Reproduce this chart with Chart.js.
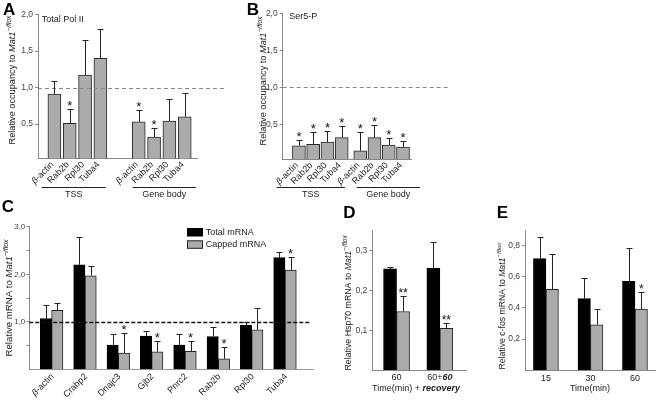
<!DOCTYPE html>
<html>
<head>
<meta charset="utf-8">
<script src="https://cdn.jsdelivr.net/npm/chart.js@4.4.0/dist/chart.umd.min.js"></script>
<style>
  html, body { margin: 0; padding: 0; background: #fff; }
  #wrap { position: relative; width: 656px; height: 401px; overflow: hidden; }
  canvas { position: absolute; }
</style>
</head>
<body>
<div id="wrap">
  <canvas id="pa" width="230" height="200" style="left:0px;top:0px"></canvas>
  <canvas id="pb" width="230" height="200" style="left:225px;top:0px"></canvas>
  <canvas id="pc" width="340" height="206" style="left:0px;top:195px"></canvas>
  <canvas id="pd" width="140" height="206" style="left:335px;top:195px"></canvas>
  <canvas id="pe" width="181" height="206" style="left:475px;top:195px"></canvas>
</div>
<script>
// ---- data ----
const abGenes = ['β-actin', 'Rab2b', 'Rpl30', 'Tuba4'];
const abGroups = ['TSS', 'Gene body'];
const abTicks = [0.5, 1.0, 1.5, 2.0];

// A: Total Pol II, TSS then gene body
const aValues = [0.91, 0.51, 1.17, 1.40, 0.53, 0.32, 0.54, 0.60];
const aErrors = [0.18, 0.19, 0.48, 0.41, 0.16, 0.13, 0.31, 0.33];
const aStars  = ['', '*', '', '', '*', '*', '', ''];

// B: Ser5-P
const bValues = [0.21, 0.23, 0.26, 0.32, 0.14, 0.32, 0.22, 0.19];
const bErrors = [0.08, 0.16, 0.15, 0.16, 0.26, 0.17, 0.10, 0.08];
const bStars  = ['*', '*', '*', '*', '*', '*', '*', '*'];

// C: total vs capped mRNA
const cGenes = ['β-actin', 'Crabp2', 'Dnajc3', 'Gjb2', 'Pnrc2', 'Rab2b', 'Rpl30', 'Tuba4'];
const cTotal      = [1.07, 2.20, 0.51, 0.70, 0.51, 0.69, 0.93, 2.35];
const cTotalErr   = [0.28, 0.58, 0.24, 0.10, 0.24, 0.21, 0.07, 0.13];
const cCapped     = [1.24, 1.97, 0.34, 0.37, 0.38, 0.22, 0.83, 2.09];
const cCappedErr  = [0.16, 0.20, 0.43, 0.23, 0.22, 0.26, 0.47, 0.28];
const cStars      = ['', '', '*', '*', '*', '*', '', '*'];
const cTicks = [0.5, 1, 1.5, 2, 2.5, 3];
const seriesNames = ['Total mRNA', 'Capped mRNA'];

// D: Hsp70
const dTimes = ['60', '60+60'];
const dTotal     = [0.254, 0.256];
const dTotalErr  = [0.004, 0.066];
const dCapped    = [0.147, 0.105];
const dCappedErr = [0.038, 0.013];
const dStars     = ['**', '**'];
const dTicks = [0.1, 0.2, 0.3];

// E: c-fos
const eTimes = ['15', '30', '60'];
const eTotal     = [0.716, 0.46, 0.57];
const eTotalErr  = [0.136, 0.131, 0.213];
const eCapped    = [0.52, 0.292, 0.393];
const eCappedErr = [0.228, 0.103, 0.112];
const eStars     = ['', '', '*'];
const eTicks = [0.2, 0.4, 0.6, 0.8];

// ---- layout ----
const FONT = '"Liberation Sans", Arial, Helvetica, sans-serif';
const GREY = '#ababab';
const aSlots = [0, 1, 2, 3, 5.5, 6.5, 7.5, 8.5];
const bSlots = [0, 1, 2, 3, 4.3, 5.3, 6.3, 7.3];

function f(size, style, weight) {
  return (style || '') + ' ' + (weight || '') + ' ' + size + 'px ' + FONT;
}

// draw a run of differently styled pieces of text
function drawRich(ctx, parts, x, y, align) {
  let w = 0;
  parts.forEach(p => { ctx.font = p.font; w += ctx.measureText(p.t).width; });
  let cx = align === 'right' ? x - w : align === 'center' ? x - w / 2 : x;
  ctx.textAlign = 'left';
  parts.forEach(p => {
    ctx.font = p.font;
    ctx.fillText(p.t, cx, y + (p.dy || 0));
    cx += ctx.measureText(p.t).width;
  });
}

function geneParts(label, size) {
  if (label.startsWith('β')) {
    return [{ t: 'β', font: f(size, 'italic') }, { t: label.slice(1), font: f(size) }];
  }
  return [{ t: label, font: f(size) }];
}

function yTitle(ctx, prefix, x, y, size) {
  ctx.save();
  ctx.translate(x, y);
  ctx.rotate(-Math.PI / 2);
  ctx.fillStyle = '#222';
  ctx.textBaseline = 'middle';
  drawRich(ctx, [
    { t: prefix, font: f(size) },
    { t: 'Mat1', font: f(size, 'italic') },
    { t: '−/flox', font: f(size * 0.72, 'italic'), dy: -size * 0.38 }
  ], 0, 0, 'center');
  ctx.restore();
}

function letter(ctx, ch, x, y) {
  ctx.save();
  ctx.fillStyle = '#000';
  ctx.font = f(17, '', 'bold');
  ctx.textAlign = 'left';
  ctx.textBaseline = 'alphabetic';
  ctx.fillText(ch, x, y);
  ctx.restore();
}

function drawErrors(chart, di, errs) {
  const ctx = chart.ctx, ys = chart.scales.y;
  const meta = chart.getDatasetMeta(di);
  const vals = chart.data.datasets[di].data;
  ctx.save();
  ctx.strokeStyle = '#222';
  ctx.lineWidth = 1;
  meta.data.forEach((bar, i) => {
    const top = Math.round(ys.getPixelForValue(vals[i].y + errs[i])) + 0.5;
    const x = Math.round(bar.x) + 0.5;
    ctx.beginPath();
    ctx.moveTo(x, bar.y);
    ctx.lineTo(x, top);
    ctx.moveTo(x - 3, top);
    ctx.lineTo(x + 3, top);
    ctx.stroke();
  });
  ctx.restore();
}

function drawStars(chart, di, errs, marks, size) {
  const ctx = chart.ctx, ys = chart.scales.y;
  const meta = chart.getDatasetMeta(di);
  const vals = chart.data.datasets[di].data;
  ctx.save();
  ctx.fillStyle = '#111';
  ctx.font = f(size);
  ctx.textAlign = 'center';
  ctx.textBaseline = 'alphabetic';
  meta.data.forEach((bar, i) => {
    if (!marks[i]) return;
    const top = ys.getPixelForValue(vals[i].y + errs[i]);
    ctx.fillText(marks[i], bar.x, top + 1);
  });
  ctx.restore();
}

function refLine(chart, xEnd, color, dash, width) {
  const { ctx, chartArea: ca, scales: { x, y } } = chart;
  const py = Math.round(y.getPixelForValue(1)) + 0.5;
  ctx.save();
  ctx.strokeStyle = color;
  ctx.lineWidth = width;
  ctx.setLineDash(dash);
  ctx.beginPath();
  ctx.moveTo(ca.left, py);
  ctx.lineTo(x.getPixelForValue(xEnd), py);
  ctx.stroke();
  ctx.restore();
}

function slantLabels(chart, labels, positions, dx, dy, size) {
  const { ctx, chartArea: ca, scales: { x } } = chart;
  ctx.save();
  ctx.fillStyle = '#222';
  ctx.textBaseline = 'middle';
  labels.forEach((lab, i) => {
    ctx.save();
    ctx.translate(x.getPixelForValue(positions[i]) + dx, ca.bottom + dy);
    ctx.rotate(-Math.PI / 4);
    drawRich(ctx, geneParts(lab, size), 0, 0, 'right');
    ctx.restore();
  });
  ctx.restore();
}

function groupLines(chart, groups, lineY, textY) {
  const { ctx, scales: { x } } = chart;
  ctx.save();
  ctx.strokeStyle = '#222';
  ctx.fillStyle = '#222';
  ctx.lineWidth = 1;
  ctx.font = f(9);
  ctx.textAlign = 'center';
  groups.forEach(g => {
    const x1 = x.getPixelForValue(g.from), x2 = x.getPixelForValue(g.to);
    ctx.beginPath();
    ctx.moveTo(x1, lineY + 0.5);
    ctx.lineTo(x2, lineY + 0.5);
    ctx.stroke();
    ctx.fillText(g.label, (x1 + x2) / 2, textY);
  });
  ctx.restore();
}

const comma1 = v => v.toFixed(1).replace('.', ',');

function makeChart(id, o) {
  return new Chart(document.getElementById(id), {
    type: 'bar',
    data: { datasets: o.datasets },
    options: {
      responsive: false,
      animation: false,
      events: [],
      layout: { padding: o.pad },
      plugins: { legend: { display: false }, tooltip: { enabled: false } },
      scales: {
        x: {
          type: 'linear', min: o.xMin, max: o.xMax, offset: false,
          grid: { display: false },
          ticks: { display: false },
          border: { display: true, color: o.baseColor || '#888', width: 1 },
          afterFit(s) { s.height = 0; s.paddingLeft = 0; s.paddingRight = 0; }
        },
        y: {
          type: 'linear', min: o.yMin, max: o.yMax,
          afterBuildTicks(s) { s.ticks = o.ticks.map(v => ({ value: v })); },
          grid: { display: true, drawOnChartArea: false, drawTicks: true, tickLength: 3, color: '#888' },
          border: { display: true, color: '#888', width: 1 },
          ticks: { padding: o.tickPad || 2, color: '#444', font: { family: FONT, size: o.tickSize || 8.5 }, callback: o.tickFmt },
          afterFit(s) { s.width = o.yWidth; s.paddingTop = 0; s.paddingBottom = 0; }
        }
      }
    },
    plugins: [{ id: 'decor', afterDraw: o.decor }]
  });
}

function points(values, positions) {
  return values.map((v, i) => ({ x: positions ? positions[i] : i, y: v }));
}

// ---- A ----
makeChart('pa', {
  datasets: [{ data: points(aValues, aSlots), backgroundColor: GREY, borderColor: '#2a2a2a', borderWidth: 1, barThickness: 13 }],
  xMin: -1.07, xMax: 9.3, yMin: 0.03, yMax: 2.0, yWidth: 38,
  pad: { left: 0, top: 14.7, right: 33, bottom: 41.7 },
  ticks: abTicks, tickFmt: comma1,
  decor(chart) {
    const ctx = chart.ctx;
    refLine(chart, 11.19, '#888', [4, 3], 1);
    drawErrors(chart, 0, aErrors);
    drawStars(chart, 0, aErrors, aStars, 13);
    slantLabels(chart, abGenes.concat(abGenes), aSlots, -2, 5, 9);
    groupLines(chart, [
      { label: abGroups[0], from: -0.83, to: 3.34 },
      { label: abGroups[1], from: 5.11, to: 9.23 }
    ], 187, 196.5);
    ctx.save();
    ctx.fillStyle = '#222';
    ctx.font = f(9);
    ctx.textAlign = 'left';
    ctx.fillText('Total Pol II', 41.7, 21.5);
    ctx.restore();
    letter(ctx, 'A', 3, 15);
    yTitle(ctx, 'Relative occupancy to ', 12.7, 80, 9.2);
  }
});

// ---- B ----
makeChart('pb', {
  datasets: [{ data: points(bValues, bSlots), backgroundColor: GREY, borderColor: '#2a2a2a', borderWidth: 1, barThickness: 13 }],
  xMin: -1.14, xMax: 7.91, yMin: 0.03, yMax: 2.0, yWidth: 57.7,
  pad: { left: 0, top: 13.5, right: 43.3, bottom: 41 },
  ticks: abTicks, tickFmt: comma1,
  decor(chart) {
    const ctx = chart.ctx;
    refLine(chart, 10.6, '#888', [4, 3], 1);
    drawErrors(chart, 0, bErrors);
    drawStars(chart, 0, bErrors, bStars, 13);
    slantLabels(chart, abGenes.concat(abGenes), bSlots, -2, 5, 9);
    groupLines(chart, [
      { label: abGroups[0], from: -1.56, to: 3.23 },
      { label: abGroups[1], from: 4.05, to: 8.49 }
    ], 187, 196.5);
    ctx.save();
    ctx.fillStyle = '#222';
    ctx.font = f(9);
    ctx.textAlign = 'left';
    ctx.fillText('Ser5-P', 64.3, 18.5);
    ctx.restore();
    letter(ctx, 'B', 21.7, 15);
    yTitle(ctx, 'Relative occupancy to ', 38.3, 81, 9.2);
  }
});

// ---- C ----
makeChart('pc', {
  datasets: [
    { label: seriesNames[0], data: points(cTotal), backgroundColor: '#000', borderColor: '#000', borderWidth: 1, barThickness: 11.3 },
    { label: seriesNames[1], data: points(cCapped), backgroundColor: GREY, borderColor: '#222', borderWidth: 1, barThickness: 11.3 }
  ],
  xMin: -0.67, xMax: 7.84, yMin: 0, yMax: 3, yWidth: 29.3, baseColor: '#999',
  pad: { left: 0, top: 31.8, right: 27, bottom: 31.7 },
  ticks: cTicks, tickFmt: v => (Number.isInteger(v) ? comma1(v) : ''),
  tickPad: 1, tickSize: 8,
  decor(chart) {
    const ctx = chart.ctx;
    refLine(chart, 7.75, '#111', [4, 2], 1.3);
    drawErrors(chart, 0, cTotalErr);
    drawErrors(chart, 1, cCappedErr);
    drawStars(chart, 1, cCappedErr, cStars, 13);
    slantLabels(chart, cGenes, cGenes.map((g, i) => i), 1, 6, 9);
    // legend
    ctx.save();
    ctx.lineWidth = 1;
    [['#000', '#000'], [GREY, '#222']].forEach((c, i) => {
      const y = 33.5 + i * 12.3;
      ctx.fillStyle = c[0];
      ctx.fillRect(187.5, y, 15, 7.5);
      ctx.strokeStyle = c[1];
      ctx.strokeRect(187.5, y, 15, 7.5);
      ctx.fillStyle = '#222';
      ctx.font = f(9);
      ctx.textAlign = 'left';
      ctx.textBaseline = 'middle';
      ctx.fillText(seriesNames[i], 205.7, y + 4);
    });
    ctx.restore();
    letter(ctx, 'C', 1.7, 16.7);
    yTitle(ctx, 'Relative mRNA to ', 9.5, 103, 9.6);
  }
});

// ---- D ----
makeChart('pd', {
  datasets: [
    { data: points(dTotal), backgroundColor: '#000', borderColor: '#000', borderWidth: 1, barThickness: 13 },
    { data: points(dCapped), backgroundColor: GREY, borderColor: '#222', borderWidth: 1, barThickness: 13 }
  ],
  xMin: -0.56, xMax: 1.62, yMin: 0, yMax: 0.35, yWidth: 37.3,
  pad: { left: 0, top: 35.7, right: 8.3, bottom: 31 },
  ticks: dTicks, tickFmt: comma1,
  decor(chart) {
    const ctx = chart.ctx, x = chart.scales.x;
    drawErrors(chart, 0, dTotalErr);
    drawErrors(chart, 1, dCappedErr);
    drawStars(chart, 1, dCappedErr, dStars, 12);
    ctx.save();
    ctx.fillStyle = '#222';
    ctx.textBaseline = 'alphabetic';
    drawRich(ctx, [{ t: dTimes[0], font: f(9) }], x.getPixelForValue(0), 185, 'center');
    drawRich(ctx, [{ t: '60+', font: f(9) }, { t: '60', font: f(9, 'italic', 'bold') }], x.getPixelForValue(1), 185, 'center');
    drawRich(ctx, [{ t: 'Time(min) + ', font: f(9) }, { t: 'recovery', font: f(9, 'italic', 'bold') }], 37, 196, 'left');
    ctx.restore();
    letter(ctx, 'D', 8.3, 23.3);
    yTitle(ctx, 'Relative Hsp70 mRNA to ', 14, 108, 8.8);
  }
});

// ---- E ----
makeChart('pe', {
  datasets: [
    { data: points(eTotal), backgroundColor: '#000', borderColor: '#000', borderWidth: 1, barThickness: 12.5 },
    { data: points(eCapped), backgroundColor: GREY, borderColor: '#222', borderWidth: 1, barThickness: 12.5 }
  ],
  xMin: -0.47, xMax: 2.45, yMin: 0, yMax: 0.9, yWidth: 50,
  pad: { left: 0, top: 35, right: 1, bottom: 30.7 },
  ticks: eTicks, tickFmt: comma1,
  decor(chart) {
    const ctx = chart.ctx, x = chart.scales.x;
    drawErrors(chart, 0, eTotalErr);
    drawErrors(chart, 1, eCappedErr);
    drawStars(chart, 1, eCappedErr, eStars, 12);
    ctx.save();
    ctx.fillStyle = '#222';
    ctx.textBaseline = 'alphabetic';
    eTimes.forEach((t, i) => drawRich(ctx, [{ t: t, font: f(9) }], x.getPixelForValue(i), 186, 'center'));
    drawRich(ctx, [{ t: 'Time(min)', font: f(9) }], 115, 196, 'center');
    ctx.restore();
    letter(ctx, 'E', 21.7, 23.3);
    yTitle(ctx, 'Relative c-fos mRNA to ', 28, 111, 8.7);
  }
});
</script>
</body>
</html>
